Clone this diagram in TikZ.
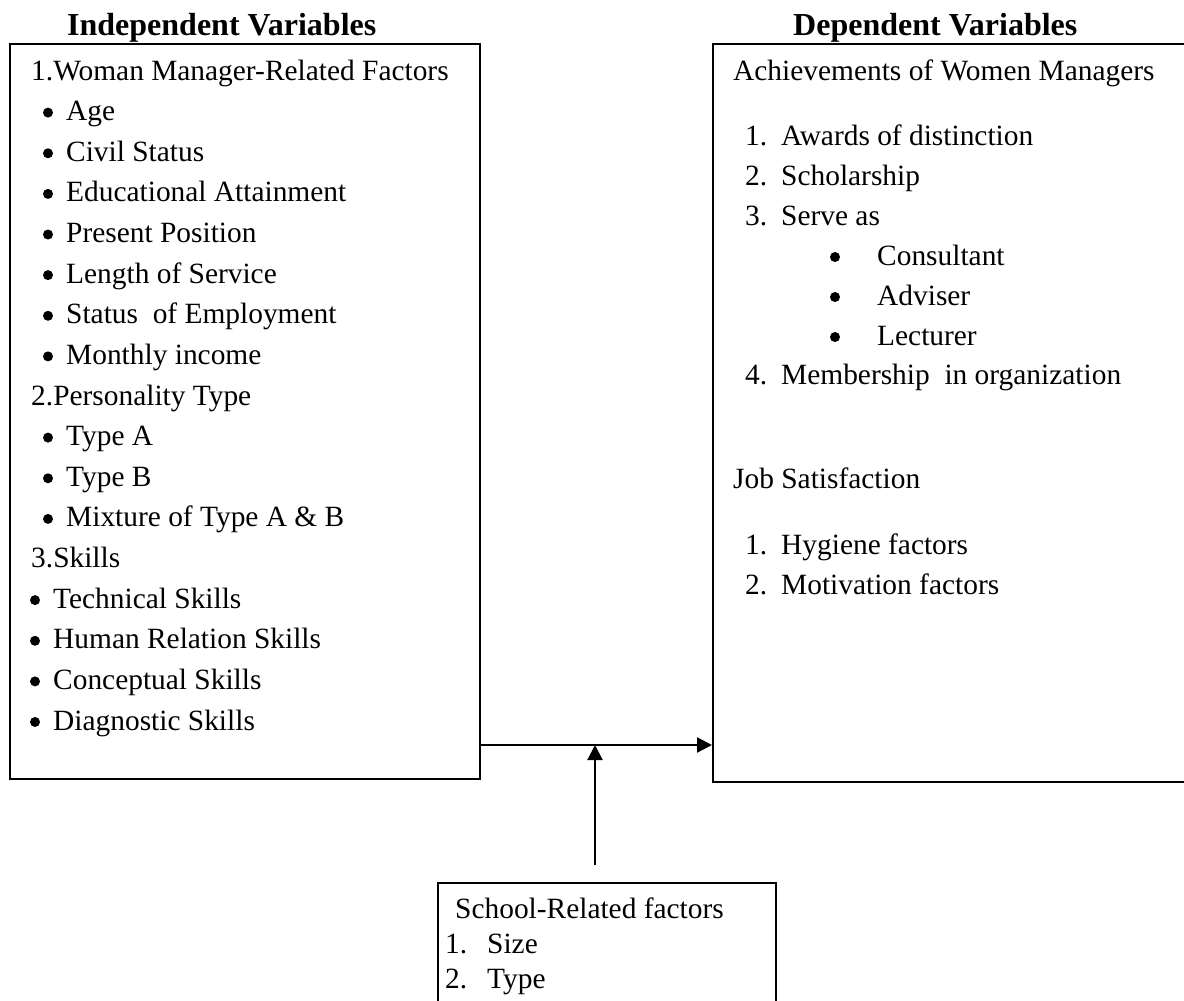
\documentclass[tikz,border=0pt]{standalone}
\usepackage{fontspec}
\setmainfont{Liberation Serif}
\usetikzlibrary{arrows.meta}
\begin{document}
\begin{tikzpicture}[x=1pt,y=-1pt,
  box/.style={draw, line width=1.8pt, anchor=north west, inner sep=0pt},
  txt/.style={anchor=base west, inner sep=0pt, font=\fontsize{29.4}{35}\selectfont},
  ttl/.style={anchor=base west, inner sep=0pt, font=\fontsize{32}{38}\selectfont\bfseries},
  conn/.style={line width=2.2pt, -{Triangle[length=15pt,width=15pt]}},
  dot/.style={fill=black}]
\useasboundingbox (0,0) rectangle (1184,1001);
\fill[white] (0,0) rectangle (1184,1001);
% titles
\node[ttl] (tind) at (67,35) {Independent Variables};
\node[ttl] (tdep) at (793,35) {Dependent Variables};
% boxes
\node[box, minimum width=470pt, minimum height=735pt] (ind) at (9,43) {};
\node[box, minimum width=490pt, minimum height=738pt] (dep) at (712,43) {};
\node[box, minimum width=338pt, minimum height=140pt] (sch) at (437,882) {};
% left box text
\node[txt] (l0) at (31,80) {1.Woman Manager-Related Factors};
\node[txt] (l1) at (66,120.6) {Age};
\node[txt] (l2) at (66,161.3) {Civil Status};
\node[txt] (l3) at (66,201.9) {Educational Attainment};
\node[txt] (l4) at (66,242.5) {Present Position};
\node[txt] (l5) at (66,283.1) {Length of Service};
\node[txt] (l6) at (66,323.8) {Status~~of Employment};
\node[txt] (l7) at (66,364.4) {Monthly income};
\node[txt] (l8) at (31,405) {2.Personality Type};
\node[txt] (l9) at (66,445.6) {Type A};
\node[txt] (l10) at (66,486.3) {Type B};
\node[txt] (l11) at (66,526.9) {Mixture of Type A \& B};
\node[txt] (l12) at (31,567.5) {3.Skills};
\node[txt] (l13) at (53,608.1) {Technical Skills};
\node[txt] (l14) at (53,648.8) {Human Relation Skills};
\node[txt] (l15) at (53,689.4) {Conceptual Skills};
\node[txt] (l16) at (53,730) {Diagnostic Skills};
\foreach \n in {l1,l2,l3,l4,l5,l6,l7,l9,l10,l11,l13,l14,l15,l16}
  \fill[dot] ([xshift=-18pt,yshift=8pt]\n.base west) circle (5pt);
% right box text
\node[txt] (r0) at (733,80) {Achievements of Women Managers};
\node[txt] (r1) at (781,145) {\llap{1.\hspace{14pt}}Awards of distinction};
\node[txt] (r2) at (781,185) {\llap{2.\hspace{14pt}}Scholarship};
\node[txt] (r3) at (781,225) {\llap{3.\hspace{14pt}}Serve as};
\node[txt] (r4) at (877,265) {Consultant};
\node[txt] (r5) at (877,305) {Adviser};
\node[txt] (r6) at (877,345) {Lecturer};
\node[txt] (r7) at (781,384) {\llap{4.\hspace{14pt}}Membership~~in organization};
\node[txt] (r8) at (733,488) {Job Satisfaction};
\node[txt] (r9) at (781,554) {\llap{1.\hspace{14pt}}Hygiene factors};
\node[txt] (r10) at (781,594) {\llap{2.\hspace{14pt}}Motivation factors};
\foreach \n in {r4,r5,r6}
  \fill[dot] ([xshift=-42pt,yshift=8pt]\n.base west) circle (5pt);
% bottom box text
\node[txt] (s0) at (455,918) {School-Related factors};
\node[txt] (s1) at (487,953) {\llap{1.\hspace{20pt}}Size};
\node[txt] (s2) at (487,988) {\llap{2.\hspace{20pt}}Type};
% connectors
\coordinate (j) at (595,745);
\coordinate (t) at (595,865);
\draw[conn] (ind.east |- j) -- (dep.west |- j);
\draw[conn] (t) -- (j);
\end{tikzpicture}
\end{document}
